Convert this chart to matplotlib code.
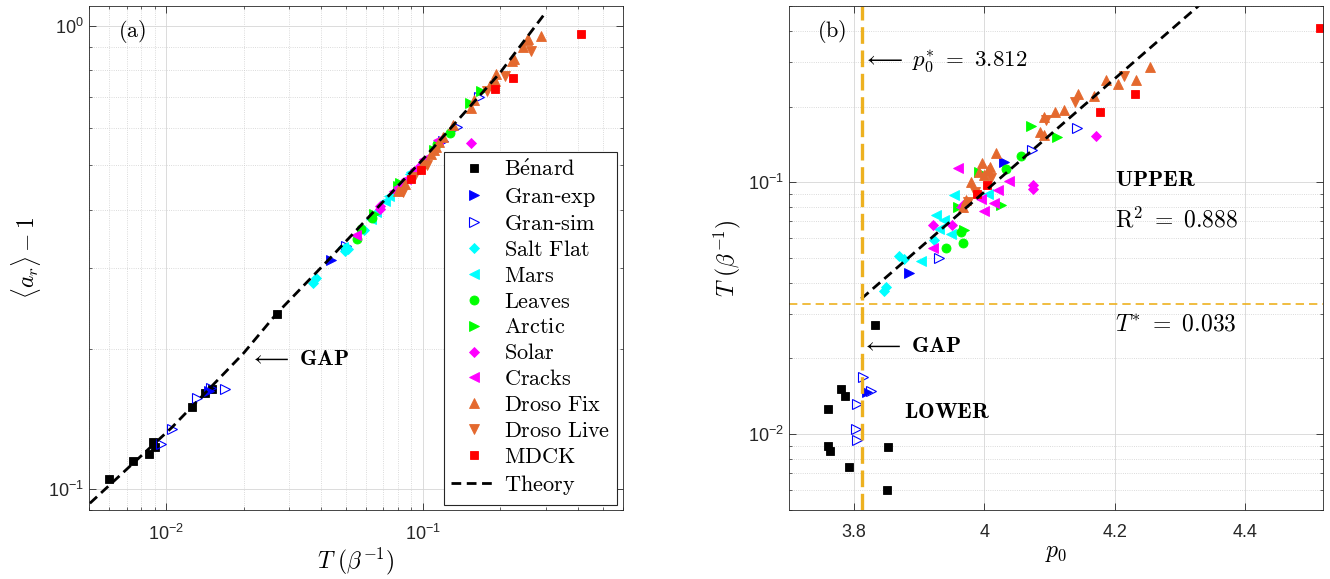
import matplotlib
matplotlib.use("Agg")
import matplotlib.pyplot as plt
from matplotlib.ticker import NullFormatter, FixedLocator, FixedFormatter

plt.rcParams['font.family'] = ['Liberation Sans', 'DejaVu Sans']
plt.rcParams['mathtext.fontset'] = 'cm'

# ---- datos: T, <a_r>-1 y p0 por sistema ----
benard_T = [0.0060, 0.0074, 0.0086, 0.0089, 0.0090, 0.0126, 0.0142, 0.0151, 0.0271]
benard_ar = [0.105, 0.115, 0.119, 0.126, 0.123, 0.150, 0.161, 0.164, 0.239]
benard_p0 = [3.851, 3.792, 3.763, 3.852, 3.760, 3.760, 3.786, 3.780, 3.832]

granexp_T = [0.0147, 0.0437, 0.120]
granexp_ar = [0.163, 0.312, 0.563]
granexp_p0 = [3.820, 3.884, 4.030]

gransim_T = [0.0095, 0.0105, 0.0132, 0.0149, 0.0169, 0.050, 0.135, 0.165]
gransim_ar = [0.125, 0.135, 0.157, 0.165, 0.164, 0.335, 0.605, 0.700]
gransim_p0 = [3.805, 3.803, 3.805, 3.826, 3.814, 3.931, 4.073, 4.143]

salt_T = [0.0372, 0.0383, 0.0508, 0.0497, 0.0589]
salt_ar = [0.278, 0.285, 0.329, 0.326, 0.362]
salt_p0 = [3.846, 3.849, 3.869, 3.877, 3.923]

mars_T = [0.0486, 0.0739, 0.0711, 0.0625, 0.0655, 0.0888, 0.090]
mars_ar = [0.333, 0.428, 0.418, 0.383, 0.395, 0.478, 0.483]
mars_p0 = [3.903, 3.926, 3.938, 3.949, 3.931, 3.954, 4.005]

leaves_T = [0.0551, 0.0574, 0.0635, 0.113, 0.127]
leaves_ar = [0.347, 0.363, 0.385, 0.556, 0.586]
leaves_p0 = [3.941, 3.967, 3.964, 4.033, 4.057]

arctic_T = [0.168, 0.152, 0.0645, 0.0815, 0.0798, 0.110]
arctic_ar = [0.722, 0.679, 0.392, 0.458, 0.450, 0.540]
arctic_p0 = [4.072, 4.112, 3.969, 4.026, 3.960, 3.992]

solar_T = [0.153, 0.068, 0.068, 0.098, 0.094, 0.081]
solar_ar = [0.558, 0.401, 0.408, 0.500, 0.488, 0.446]
solar_p0 = [4.172, 3.921, 3.951, 4.074, 4.074, 3.968]

cracks_T = [0.114, 0.101, 0.093, 0.083, 0.077, 0.055, 0.080, 0.086]
cracks_ar = [0.567, 0.515, 0.490, 0.455, 0.440, 0.354, 0.448, 0.466]
cracks_p0 = [3.960, 4.038, 4.021, 4.015, 4.000, 3.921, 3.964, 3.995]

drosofix_T = [0.288, 0.255, 0.245, 0.254, 0.225, 0.221, 0.193, 0.190, 0.182, 0.158,
              0.154, 0.131, 0.119, 0.115, 0.112, 0.110, 0.107, 0.100, 0.085, 0.080]
drosofix_ar = [0.950, 0.935, 0.900, 0.930, 0.845, 0.838, 0.785, 0.760, 0.745, 0.690,
               0.664, 0.610, 0.575, 0.560, 0.548, 0.540, 0.528, 0.505, 0.455, 0.440]
drosofix_p0 = [4.254, 4.187, 4.205, 4.233, 4.144, 4.169, 4.123, 4.108, 4.092, 4.085,
               4.092, 4.018, 3.997, 4.008, 4.005, 3.992, 4.000, 3.979, 3.972, 3.967]

drosolive_T = [0.264, 0.208, 0.177, 0.0836, 0.092, 0.104]
drosolive_ar = [0.881, 0.778, 0.722, 0.438, 0.470, 0.500]
drosolive_p0 = [4.215, 4.140, 4.095, 3.975, 3.985, 4.010]

mdck_T = [0.41, 0.224, 0.191, 0.098, 0.090]
mdck_ar = [0.957, 0.771, 0.729, 0.489, 0.466]
mdck_p0 = [4.515, 4.231, 4.178, 4.004, 3.989]

# curva teorica (panel a) y ajuste exponencial (panel b)
theory_T = [0.00504, 0.0105, 0.01995, 0.0269, 0.0435, 0.100, 0.199, 0.298]
theory_ar = [0.0931, 0.1356, 0.196, 0.239, 0.315, 0.515, 0.790, 1.062]
fit_p0 = [3.811, 4.330]
fit_T = [0.0345, 0.505]
p0_star = 3.812
T_star = 0.033

p0_ticks = [3.8, 4.0, 4.2, 4.4]
p0_ticklabels = ['3.8', '4', '4.2', '4.4']

naranja = '#E4692E'
amarillo = '#EDB120'

series = [
    (r'$\mathrm{B\acute{e}nard}$', benard_T, benard_ar, benard_p0, 's', 'k', 6, True),
    (r'$\mathrm{Gran}$-$\mathrm{exp}$', granexp_T, granexp_ar, granexp_p0, '>', '#0000FF', 7, True),
    (r'$\mathrm{Gran}$-$\mathrm{sim}$', gransim_T, gransim_ar, gransim_p0, '>', '#0000FF', 7, False),
    (r'$\mathrm{Salt\ Flat}$', salt_T, salt_ar, salt_p0, 'D', '#00FFFF', 5.5, True),
    (r'$\mathrm{Mars}$', mars_T, mars_ar, mars_p0, '<', '#00FFFF', 7, True),
    (r'$\mathrm{Leaves}$', leaves_T, leaves_ar, leaves_p0, 'o', '#00FF00', 6.5, True),
    (r'$\mathrm{Arctic}$', arctic_T, arctic_ar, arctic_p0, '>', '#00FF00', 7, True),
    (r'$\mathrm{Solar}$', solar_T, solar_ar, solar_p0, 'D', '#FF00FF', 5.5, True),
    (r'$\mathrm{Cracks}$', cracks_T, cracks_ar, cracks_p0, '<', '#FF00FF', 7, True),
    (r'$\mathrm{Droso\ Fix}$', drosofix_T, drosofix_ar, drosofix_p0, '^', naranja, 7, True),
    (r'$\mathrm{Droso\ Live}$', drosolive_T, drosolive_ar, drosolive_p0, 'v', naranja, 7, True),
    (r'$\mathrm{MDCK}$', mdck_T, mdck_ar, mdck_p0, 's', '#FF0000', 6, True),
]

fig = plt.figure(figsize=(13.3, 5.79), dpi=100)
axA = fig.add_axes([0.0669, 0.119, 0.4015, 0.870])
axB = fig.add_axes([0.5932, 0.119, 0.4015, 0.870])

for nombre, T, ar, p0, mk, col, ms, lleno in series:
    kw = dict(linestyle='none', marker=mk, ms=ms, color=col, mec=col,
              mfc=col if lleno else 'none', mew=0.6 if lleno else 0.8)
    axA.plot(T, ar, label=nombre, **kw)
    axB.plot(p0, T, **kw)

axA.plot(theory_T, theory_ar, color='k', ls='--', lw=2, dashes=(3.5, 2), label=r'$\mathrm{Theory}$')
axB.plot(fit_p0, fit_T, color='k', ls='--', lw=2, dashes=(3.5, 2))
axB.axvline(p0_star, color=amarillo, ls='--', lw=2.4, dashes=(5, 2))
axB.axhline(T_star, color=amarillo, ls='--', lw=1.2, dashes=(5, 3))

# ---- panel (a) ----
axA.set_xscale('log')
axA.set_yscale('log')
axA.set_xlim(0.005, 0.6)
axA.set_ylim(0.09, 1.1)
axA.set_xlabel(r'$T\ (\beta^{-1})$', fontsize=17, labelpad=1)
axA.set_ylabel(r'$\langle a_r \rangle - 1$', fontsize=17, labelpad=4)
axA.text(0.08, 0.95, r'$\mathrm{(a)}$', transform=axA.transAxes, fontsize=16, ha='center', va='center')
axA.text(0.0212, 0.190, r'$\longleftarrow\ \mathbf{GAP}$', fontsize=16, va='center')
leg = axA.legend(loc='lower right', fontsize=16, frameon=True, fancybox=False, framealpha=1,
                 edgecolor='#262626', borderaxespad=0.25, labelspacing=0.22, handlelength=2.0,
                 handletextpad=0.35, borderpad=0.35)
leg.get_frame().set_linewidth(0.8)

# ---- panel (b) ----
axB.set_yscale('log')
axB.set_xlim(3.7, 4.52)
axB.set_ylim(0.005, 0.5)
axB.xaxis.set_major_locator(FixedLocator(p0_ticks))
axB.xaxis.set_major_formatter(FixedFormatter(p0_ticklabels))
axB.set_xlabel(r'$p_0$', fontsize=17, labelpad=1)
axB.set_ylabel(r'$T\ (\beta^{-1})$', fontsize=17, labelpad=4)
axB.text(0.081, 0.95, r'$\mathrm{(b)}$', transform=axB.transAxes, fontsize=16, ha='center', va='center')
axB.text(3.8125, 0.302, r'$\longleftarrow\ p_0^{*}\ =\ 3.812$', fontsize=16.5, va='center')
axB.text(3.8125, 0.0224, r'$\longleftarrow\ \mathbf{GAP}$', fontsize=16, va='center')
axB.text(3.876, 0.0122, r'$\mathbf{LOWER}$', fontsize=16, va='center')
axB.text(4.200, 0.1017, r'$\mathbf{UPPER}$', fontsize=16, va='center')
axB.text(4.200, 0.0713, r'$\mathrm{R}^2\ =\ 0.888$', fontsize=17, va='center')
axB.text(4.200, 0.0274, r'$T^{*}\ =\ 0.033$', fontsize=17, va='center')

for ax in (axA, axB):
    ax.tick_params(which='both', direction='in', top=True, right=True, colors='#262626',
                   labelsize=13)
    ax.tick_params(which='major', length=5, width=0.6)
    ax.tick_params(which='minor', length=2.5, width=0.5)
    ax.tick_params(axis='x', which='both', pad=10)
    for s in ax.spines.values():
        s.set_color('#262626')
        s.set_linewidth(0.6)
    ax.set_axisbelow(True)

axA.grid(True, which='major', color='#d6d6d6', lw=0.6, ls='-')
axA.grid(True, which='minor', color='#cfcfcf', lw=0.6, ls=':')
axB.grid(True, which='major', axis='both', color='#d6d6d6', lw=0.6, ls='-')
axB.grid(True, which='minor', axis='y', color='#cfcfcf', lw=0.6, ls=':')
axB.yaxis.set_minor_formatter(NullFormatter())
axA.yaxis.set_minor_formatter(NullFormatter())
axA.xaxis.set_minor_formatter(NullFormatter())

fig.savefig('out.png', dpi=100)
